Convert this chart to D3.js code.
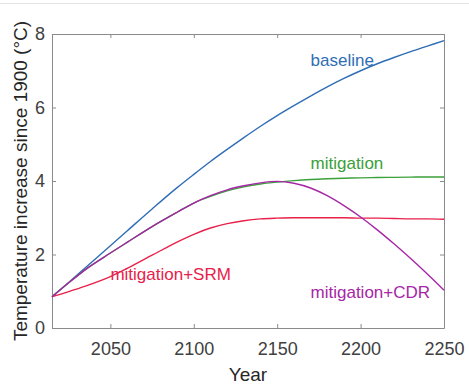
<!DOCTYPE html>
<html>
<head>
<meta charset="utf-8">
<script src="https://cdn.jsdelivr.net/npm/d3@7"></script>
<style>
  html, body { margin: 0; padding: 0; background: #fff; }
  svg { display: block; font-family: "Liberation Sans", Arial, Helvetica, sans-serif; }
</style>
</head>
<body>
<svg id="chart" width="469" height="386"></svg>
<script>
// Years at which each temperature scenario is sampled
const years = [2015, 2025, 2035, 2050, 2060, 2075, 2090, 2100, 2110, 2120, 2130, 2140,
               2150, 2160, 2170, 2180, 2190, 2200, 2210, 2220, 2230, 2240, 2250];

// Temperature increase since 1900 (°C)
const baseline      = [0.85, 1.24, 1.64, 2.24, 2.64, 3.24, 3.82, 4.18, 4.53, 4.86, 5.18, 5.49,
                       5.78, 6.05, 6.31, 6.56, 6.79, 7.00, 7.19, 7.36, 7.52, 7.67, 7.82];
const mitigation    = [0.85, 1.23, 1.59, 2.04, 2.33, 2.76, 3.15, 3.40, 3.58, 3.73, 3.84, 3.92,
                       3.97, 4.01, 4.04, 4.06, 4.075, 4.085, 4.095, 4.10, 4.105, 4.11, 4.11];
const mitigationSRM = [0.85, 0.99, 1.14, 1.40, 1.62, 1.98, 2.34, 2.55, 2.72, 2.84, 2.92, 2.97,
                       2.99, 3.00, 3.00, 3.00, 3.00, 2.99, 2.99, 2.98, 2.97, 2.97, 2.96];
const mitigationCDR = [0.85, 1.23, 1.59, 2.04, 2.33, 2.76, 3.15, 3.40, 3.60, 3.76, 3.87, 3.95,
                       3.99, 3.94, 3.81, 3.60, 3.33, 3.02, 2.67, 2.29, 1.89, 1.47, 1.03];

const xTicks = [2050, 2100, 2150, 2200, 2250];
const yTicks = [0, 2, 4, 6, 8];

const seriesNames  = ["baseline", "mitigation", "mitigation+SRM", "mitigation+CDR"];
const seriesValues = [baseline, mitigation, mitigationSRM, mitigationCDR];
const seriesColors = ["#2f6db5", "#3aa03a", "#e8204a", "#a626a6"];
// label anchor: [year, value] at the start of each text's baseline
const labelAt = [[2170, 7.12], [2170, 4.33], [2050, 1.30], [2170, 0.81]];

const svg = d3.select("#chart");
const margin = { left: 52, right: 25, top: 34, bottom: 58 };
const W = 469, H = 386;

const x = d3.scaleLinear().domain([2015, 2250]).range([margin.left, W - margin.right]);
const y = d3.scaleLinear().domain([0, 8]).range([H - margin.bottom, margin.top]);

// thin separator across the top of the figure
svg.append("line")
  .attr("x1", 0).attr("x2", W).attr("y1", 3.5).attr("y2", 3.5)
  .attr("stroke", "#e4e4e4").attr("stroke-width", 1);

const axisColor = "#262626";
const tickColor = "#404040";
const yearFmt = d3.format("d");

// bottom axis
const gx = svg.append("g")
  .attr("transform", `translate(0,${y(0)})`)
  .call(d3.axisBottom(x).tickValues(xTicks).tickFormat(yearFmt)
    .tickSizeInner(-4).tickSizeOuter(0).tickPadding(14));
// left axis
const gy = svg.append("g")
  .attr("transform", `translate(${x(2015)},0)`)
  .call(d3.axisLeft(y).tickValues(yTicks).tickSizeInner(-4).tickSizeOuter(0).tickPadding(7));
// top and right mirror axes (ticks only)
const gt = svg.append("g")
  .attr("transform", `translate(0,${y(8)})`)
  .call(d3.axisTop(x).tickValues(xTicks).tickSizeInner(-4).tickSizeOuter(0).tickFormat(""));
const gr = svg.append("g")
  .attr("transform", `translate(${x(2250)},0)`)
  .call(d3.axisRight(y).tickValues(yTicks).tickSizeInner(-4).tickSizeOuter(0).tickFormat(""));

[gx, gy, gt, gr].forEach(g => {
  g.select(".domain").attr("stroke", "#8a8a8a").attr("stroke-width", 1);
  g.selectAll(".tick line").attr("stroke", "#8a8a8a");
  g.selectAll(".tick text")
    .attr("fill", tickColor)
    .attr("font-size", 18)
    .attr("font-family", "Liberation Sans, Arial, sans-serif");
});

// scenario curves
const line = d3.line()
  .x((d, i) => x(years[i]))
  .y(d => y(d))
  .curve(d3.curveMonotoneX);

seriesValues.forEach((vals, k) => {
  svg.append("path")
    .datum(vals)
    .attr("d", line)
    .attr("fill", "none")
    .attr("stroke", seriesColors[k])
    .attr("stroke-width", 1.4);
});

// in-plot scenario labels
seriesNames.forEach((name, k) => {
  svg.append("text")
    .attr("x", x(labelAt[k][0]))
    .attr("y", y(labelAt[k][1]))
    .attr("fill", seriesColors[k])
    .attr("font-size", 17)
    .text(name);
});

// axis titles
svg.append("text")
  .attr("x", (x(2015) + x(2250)) / 2)
  .attr("y", 381)
  .attr("text-anchor", "middle")
  .attr("fill", axisColor)
  .attr("font-size", 19)
  .text("Year");

svg.append("text")
  .attr("transform", `translate(27,${(y(0) + y(8)) / 2}) rotate(-90)`)
  .attr("text-anchor", "middle")
  .attr("fill", axisColor)
  .attr("font-size", 19)
  .text("Temperature increase since 1900 (°C)");
</script>
</body>
</html>
